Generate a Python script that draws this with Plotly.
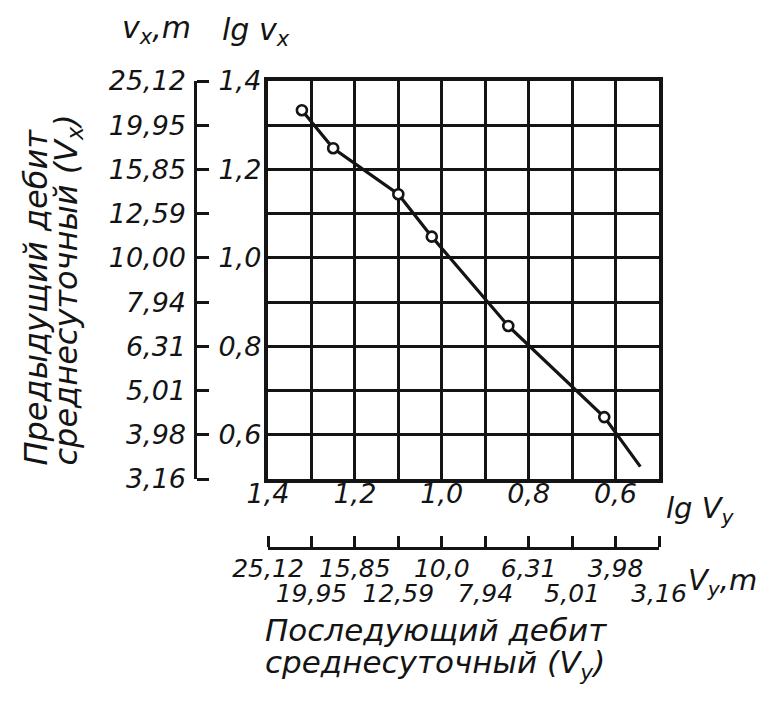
import plotly.graph_objects as go

# ---- data ----
lg_ticks = [1.4, 1.3, 1.2, 1.1, 1.0, 0.9, 0.8, 0.7, 0.6, 0.5]
lg_tick_text = ["1,4", "", "1,2", "", "1,0", "", "0,8", "", "0,6", ""]
vx_tick_text = ["25,12", "19,95", "15,85", "12,59", "10,00", "7,94", "6,31", "5,01", "3,98", "3,16"]
vy_tick_text = ["25,12", "19,95", "15,85", "12,59", "10,0", "7,94", "6,31", "5,01", "3,98", "3,16"]

# observed points (lg Vy, lg Vx)
lg_vy_points = [1.322, 1.250, 1.100, 1.023, 0.847, 0.626]
lg_vx_points = [1.334, 1.248, 1.144, 1.048, 0.846, 0.640]

# drawn curve vertices (lg Vy, lg Vx)
lg_vy_line = [1.322, 1.250, 1.100, 1.023, 0.847, 0.626, 0.543]
lg_vx_line = [1.334, 1.248, 1.144, 1.048, 0.846, 0.640, 0.528]

OFF = 8  # page body margin
W, H = 771 - OFF, 718 - OFF
INK = "#141414"
FONT = dict(family="DejaVu Sans", style="italic", color=INK)


def px(x):
    return (x - OFF) / W


def py(y):
    return 1 - (y - OFF) / H


fig = go.Figure()
fig.add_trace(go.Scatter(x=lg_vy_line, y=lg_vx_line, mode="lines",
                         line=dict(color=INK, width=3.2), hoverinfo="skip",
                         showlegend=False))
fig.add_trace(go.Scatter(x=lg_vy_points, y=lg_vx_points, mode="markers",
                         marker=dict(symbol="circle", size=10, color="white",
                                     line=dict(color=INK, width=2.6)),
                         showlegend=False))
# helper invisible traces so the extra scale axes exist
fig.add_trace(go.Scatter(x=[None], y=[None], xaxis="x2", yaxis="y2", showlegend=False))
fig.add_trace(go.Scatter(x=[None], y=[None], xaxis="x3", yaxis="y3", showlegend=False))
fig.add_trace(go.Scatter(x=[None], y=[None], xaxis="x4", yaxis="y3", showlegend=False))

dom_x = [px(268), px(659)]
dom_y = [py(479), py(81)]
rng = [1.4, 0.5]
rng_y = [0.5, 1.4]

grid = dict(tickmode="array", tickvals=lg_ticks, showticklabels=False, ticks="",
            showgrid=True, gridcolor=INK, gridwidth=3, zeroline=False,
            showline=True, linecolor=INK, linewidth=4, mirror=True, automargin=False)

common = dict(showgrid=False, zeroline=False, automargin=False)

fig.update_layout(
    width=W, height=H,
    margin=dict(l=0, r=0, t=0, b=0, pad=0, autoexpand=False),
    paper_bgcolor="white", plot_bgcolor="white",
    font=FONT,
    xaxis=dict(domain=dom_x, range=rng, **grid),
    yaxis=dict(domain=dom_y, range=rng_y, **grid),
    # left lg scale
    yaxis2=dict(overlaying="y", anchor="free", position=px(195), side="right",
                range=rng_y, tickmode="array", tickvals=lg_ticks, ticktext=lg_tick_text,
                ticks="outside", ticklen=12, tickwidth=3, tickcolor=INK,
                showline=True, linecolor=INK, linewidth=3,
                tickfont=dict(size=27, **FONT), ticklabelstandoff=4, **common),
    # left value labels
    yaxis3=dict(overlaying="y", anchor="free", position=px(195), side="left",
                range=rng_y, tickmode="array", tickvals=lg_ticks, ticktext=vx_tick_text,
                ticks="", showline=False,
                tickfont=dict(size=27, **FONT), ticklabelstandoff=9, **common),
    # bottom lg scale
    xaxis2=dict(overlaying="x", anchor="free", position=py(548), side="top",
                range=rng, tickmode="array", tickvals=lg_ticks, ticktext=lg_tick_text,
                ticks="outside", ticklen=11, tickwidth=3, tickcolor=INK,
                showline=True, linecolor=INK, linewidth=3,
                tickfont=dict(size=27, **FONT), ticklabelstandoff=22, **common),
    # bottom value labels, first row
    xaxis3=dict(overlaying="x", anchor="free", position=py(548), side="bottom",
                range=rng, tickmode="array", tickvals=lg_ticks[0::2], ticktext=vy_tick_text[0::2],
                ticks="", showline=False,
                tickfont=dict(size=25, **FONT), ticklabelstandoff=3, **common),
    # bottom value labels, second row
    xaxis4=dict(overlaying="x", anchor="free", position=py(548), side="bottom",
                range=rng, tickmode="array", tickvals=lg_ticks[1::2], ticktext=vy_tick_text[1::2],
                ticks="", showline=False,
                tickfont=dict(size=25, **FONT), ticklabelstandoff=28, **common),
)

ann = [
    dict(x=px(156), y=py(30), text="v<sub>x</sub>,m", size=30),
    dict(x=px(256), y=py(32), text="lg v<sub>x</sub>", size=30),
    dict(x=px(700), y=py(510), text="lg V<sub>y</sub>", size=29),
    dict(x=px(722), y=py(582), text="V<sub>y</sub>,m", size=29),
]
for a in ann:
    fig.add_annotation(x=a["x"], y=a["y"], xref="paper", yref="paper", text=a["text"],
                       xanchor="center", yanchor="middle",
                       showarrow=False, font=dict(size=a["size"], **FONT))

# x title, one annotation per line
for txt, yc in [("Последующий дебит", 630), ("среднесуточный (V<sub>y</sub>)", 664)]:
    fig.add_annotation(x=px(263), y=py(yc), xref="paper", yref="paper",
                       xanchor="left", yanchor="middle", showarrow=False,
                       text=txt, font=dict(size=31, **FONT))
# y title, rotated, one annotation per line
for txt, xc in [("Предыдущий дебит", 35), ("среднесуточный (V<sub>x</sub>)", 67)]:
    fig.add_annotation(x=px(xc), y=py(468), xref="paper", yref="paper",
                       xanchor="center", yanchor="bottom", showarrow=False,
                       textangle=-90, text=txt, font=dict(size=32, **FONT))

fig.write_html("out.html")
